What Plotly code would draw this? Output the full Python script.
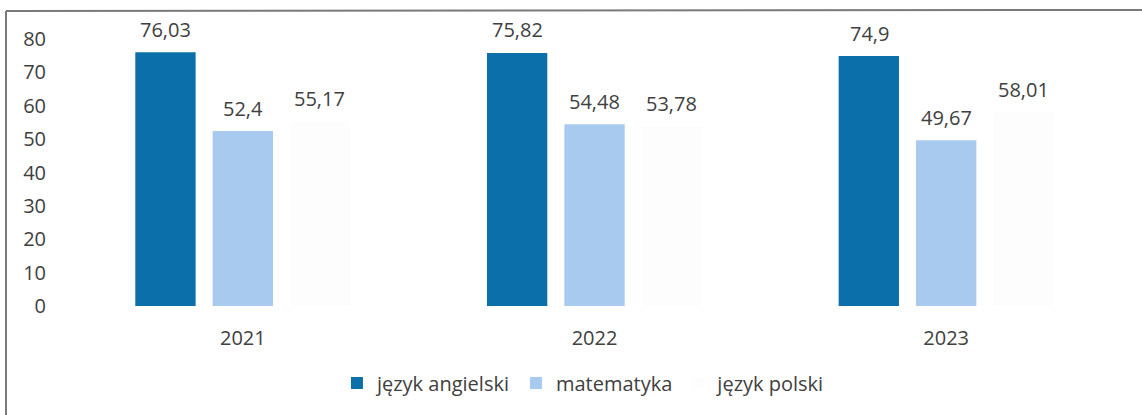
import plotly.graph_objects as go

years = ["2021", "2022", "2023"]
angielski = [76.03, 75.82, 74.9]
matematyka = [52.4, 54.48, 49.67]
polski = [55.17, 53.78, 58.01]
series_names = ["język angielski", "matematyka", "język polski"]
colors = ["#0b70aa", "#a8caee", "#fdfdfd"]
y_ticks = [0, 10, 20, 30, 40, 50, 60, 70, 80]

def fmt(v):
    return f"{v:g}".replace(".", ",")

W, H = 1142, 415
L, R, T, B = 67, 20, 39, 109
pw = W - L - R
ph = H - T - B

def px_x(x):
    return (x - L) / pw

def px_y(y):
    return (H - B - y) / ph

slot_shift = [-77, 0, 77]

fig = go.Figure()
annotations = []
for name, vals, col, sh in zip(series_names, [angielski, matematyka, polski], colors, slot_shift):
    fig.add_trace(go.Bar(
        x=years, y=vals, name=name, marker=dict(color=col, line=dict(width=0)),
    ))
    for i, v in enumerate(vals):
        annotations.append(dict(
            x=i, y=v, xref="x", yref="y", text=fmt(v), showarrow=False,
            xshift=sh, yshift=23, yanchor="middle", xanchor="center",
            font=dict(size=20, color="#404040", family="Open Sans"),
        ))

fig.update_layout(
    width=W, height=H,
    margin=dict(l=L, r=R, t=T, b=B),
    paper_bgcolor="white", plot_bgcolor="white",
    barmode="group", bargap=0.34, bargroupgap=0.22,
    font=dict(family="Open Sans", color="#404040"),
    showlegend=True,
    legend=dict(orientation="h", x=0.49, xanchor="center", y=px_y(383), yanchor="middle",
                font=dict(size=20, color="#404040"), itemwidth=30),
    xaxis=dict(type="category", range=[-0.5, len(years) - 0.5], showgrid=False, showline=False, ticks="",
               tickfont=dict(size=20, color="#404040"), ticklabelstandoff=18),
    yaxis=dict(range=[0, 80], tickvals=y_ticks, showgrid=False, showline=False, zeroline=False,
               ticks="", tickfont=dict(size=20, color="#404040"), ticklabelstandoff=20),
    annotations=annotations,
    shapes=[
        dict(type="line", xref="paper", yref="paper", x0=px_x(6), x1=px_x(6), y0=px_y(11), y1=px_y(420),
             line=dict(color="#7a7a7a", width=2)),
        dict(type="line", xref="paper", yref="paper", x0=px_x(6), x1=px_x(1145), y0=px_y(11), y1=px_y(10),
             line=dict(color="#7a7a7a", width=2)),
    ],
)

fig.write_html("out.html", config={"displayModeBar": False},
               post_script="document.body.style.margin='0';document.body.style.overflow='hidden';")
